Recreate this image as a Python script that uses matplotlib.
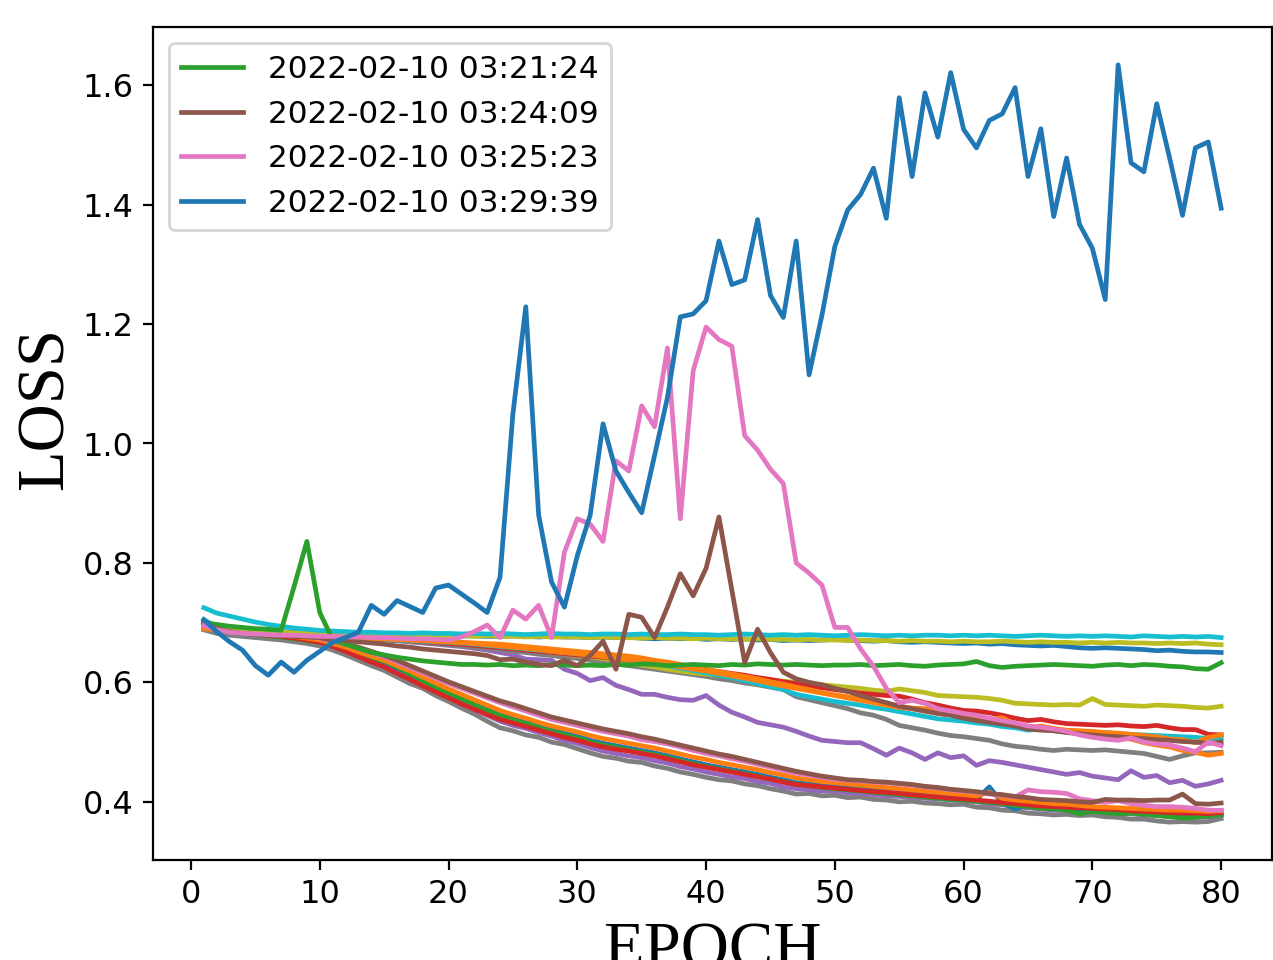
import matplotlib as mpl
mpl.use('Agg')
import matplotlib.pyplot as plt
import numpy as np

epochs = np.arange(1, 81)

# labelled runs
run_032124 = [0.700, 0.697, 0.694, 0.692, 0.690, 0.689, 0.687, 0.760, 0.836, 0.717,
              0.672, 0.664, 0.657, 0.650, 0.646, 0.642, 0.639, 0.636, 0.634, 0.632,
              0.630, 0.630, 0.629, 0.630, 0.628, 0.629, 0.628, 0.630, 0.629, 0.628,
              0.629, 0.628, 0.630, 0.629, 0.631, 0.630, 0.628, 0.629, 0.630, 0.629,
              0.628, 0.630, 0.629, 0.631, 0.630, 0.629, 0.630, 0.629, 0.628, 0.629,
              0.629, 0.630, 0.628, 0.629, 0.630, 0.628, 0.627, 0.629, 0.630, 0.631,
              0.635, 0.628, 0.625, 0.627, 0.628, 0.629, 0.630, 0.629, 0.628, 0.627,
              0.629, 0.630, 0.628, 0.630, 0.629, 0.627, 0.626, 0.623, 0.622, 0.633]
run_032409 = [0.700, 0.690, 0.685, 0.682, 0.680, 0.679, 0.678, 0.677, 0.676, 0.675,
              0.673, 0.670, 0.668, 0.666, 0.664, 0.661, 0.659, 0.656, 0.654, 0.652,
              0.650, 0.648, 0.645, 0.638, 0.639, 0.634, 0.630, 0.628, 0.637, 0.628,
              0.645, 0.669, 0.622, 0.714, 0.709, 0.675, 0.726, 0.782, 0.745, 0.791,
              0.877, 0.755, 0.633, 0.689, 0.650, 0.617, 0.606, 0.600, 0.596, 0.590,
              0.585, 0.578, 0.572, 0.566, 0.560, 0.556, 0.552, 0.548, 0.545, 0.540,
              0.536, 0.533, 0.530, 0.527, 0.522, 0.520, 0.519, 0.516, 0.514, 0.512,
              0.510, 0.509, 0.507, 0.506, 0.504, 0.503, 0.501, 0.500, 0.498, 0.500]
run_032523 = [0.695, 0.688, 0.684, 0.682, 0.681, 0.680, 0.679, 0.679, 0.678, 0.677,
              0.677, 0.676, 0.676, 0.675, 0.675, 0.674, 0.673, 0.673, 0.672, 0.671,
              0.676, 0.685, 0.696, 0.675, 0.721, 0.706, 0.729, 0.675, 0.818, 0.874,
              0.865, 0.836, 0.971, 0.954, 1.063, 1.028, 1.160, 0.874, 1.122, 1.195,
              1.174, 1.163, 1.013, 0.989, 0.957, 0.933, 0.800, 0.783, 0.763, 0.692,
              0.692, 0.656, 0.627, 0.590, 0.566, 0.570, 0.565, 0.556, 0.552, 0.548,
              0.545, 0.540, 0.536, 0.532, 0.527, 0.525, 0.522, 0.518, 0.512, 0.508,
              0.505, 0.503, 0.507, 0.500, 0.497, 0.495, 0.490, 0.484, 0.500, 0.494]
run_032939 = [0.705, 0.685, 0.668, 0.654, 0.628, 0.612, 0.634, 0.617, 0.637, 0.652,
              0.667, 0.675, 0.684, 0.729, 0.714, 0.737, 0.727, 0.717, 0.758, 0.763,
              0.748, 0.733, 0.717, 0.776, 1.050, 1.229, 0.880, 0.768, 0.726, 0.812,
              0.880, 1.033, 0.954, 0.918, 0.884, 0.980, 1.077, 1.212, 1.217, 1.239,
              1.339, 1.266, 1.274, 1.375, 1.248, 1.211, 1.339, 1.115, 1.215, 1.330,
              1.391, 1.417, 1.461, 1.377, 1.579, 1.447, 1.587, 1.513, 1.621, 1.526,
              1.495, 1.541, 1.552, 1.596, 1.447, 1.527, 1.380, 1.478, 1.367, 1.327,
              1.241, 1.634, 1.470, 1.455, 1.569, 1.478, 1.382, 1.495, 1.505, 1.394]
legend_labels = ['2022-02-10 03:21:24', '2022-02-10 03:24:09',
                 '2022-02-10 03:25:23', '2022-02-10 03:29:39']

# runs that stay flat
flat_cyan = [0.725, 0.716, 0.711, 0.706, 0.701, 0.697, 0.694, 0.691, 0.689, 0.687,
             0.686, 0.685, 0.684, 0.684, 0.683, 0.683, 0.682, 0.683, 0.682, 0.682,
             0.681, 0.682, 0.681, 0.682, 0.681, 0.680, 0.681, 0.682, 0.681, 0.681,
             0.680, 0.681, 0.681, 0.680, 0.681, 0.680, 0.680, 0.681, 0.680, 0.680,
             0.679, 0.680, 0.681, 0.680, 0.679, 0.680, 0.679, 0.680, 0.679, 0.678,
             0.679, 0.680, 0.679, 0.678, 0.679, 0.678, 0.679, 0.679, 0.678, 0.679,
             0.678, 0.679, 0.678, 0.677, 0.678, 0.679, 0.678, 0.677, 0.678, 0.677,
             0.678, 0.677, 0.676, 0.678, 0.677, 0.676, 0.677, 0.676, 0.677, 0.675]
flat_blue = [0.700, 0.695, 0.692, 0.690, 0.688, 0.686, 0.685, 0.684, 0.683, 0.682,
             0.682, 0.681, 0.681, 0.680, 0.680, 0.680, 0.679, 0.679, 0.679, 0.678,
             0.678, 0.678, 0.677, 0.677, 0.678, 0.677, 0.676, 0.677, 0.676, 0.676,
             0.675, 0.676, 0.675, 0.676, 0.674, 0.673, 0.674, 0.673, 0.674, 0.672,
             0.673, 0.672, 0.673, 0.671, 0.672, 0.670, 0.671, 0.670, 0.671, 0.672,
             0.671, 0.670, 0.669, 0.670, 0.668, 0.667, 0.668, 0.667, 0.666, 0.665,
             0.666, 0.664, 0.665, 0.663, 0.662, 0.661, 0.662, 0.660, 0.658, 0.657,
             0.658, 0.657, 0.656, 0.655, 0.653, 0.654, 0.652, 0.651, 0.651, 0.650]
flat_olive = [0.698, 0.693, 0.690, 0.688, 0.686, 0.685, 0.684, 0.683, 0.682, 0.682,
              0.681, 0.681, 0.680, 0.680, 0.680, 0.679, 0.679, 0.679, 0.678, 0.678,
              0.678, 0.677, 0.678, 0.677, 0.677, 0.676, 0.677, 0.676, 0.676, 0.676,
              0.675, 0.676, 0.675, 0.675, 0.674, 0.675, 0.674, 0.674, 0.673, 0.674,
              0.673, 0.673, 0.672, 0.673, 0.672, 0.672, 0.671, 0.672, 0.671, 0.671,
              0.670, 0.671, 0.670, 0.670, 0.669, 0.670, 0.669, 0.669, 0.668, 0.669,
              0.668, 0.668, 0.669, 0.668, 0.667, 0.668, 0.667, 0.667, 0.666, 0.667,
              0.666, 0.667, 0.666, 0.666, 0.665, 0.666, 0.665, 0.666, 0.664, 0.663]

# runs that decay slowly
mid_red = [0.698, 0.690, 0.686, 0.684, 0.682, 0.681, 0.680, 0.679, 0.678, 0.677,
           0.676, 0.675, 0.674, 0.673, 0.672, 0.671, 0.670, 0.668, 0.667, 0.665,
           0.664, 0.662, 0.660, 0.658, 0.656, 0.654, 0.652, 0.650, 0.648, 0.646,
           0.644, 0.642, 0.640, 0.637, 0.635, 0.632, 0.630, 0.627, 0.624, 0.621,
           0.618, 0.615, 0.612, 0.608, 0.605, 0.601, 0.598, 0.594, 0.591, 0.588,
           0.585, 0.582, 0.580, 0.578, 0.577, 0.572, 0.566, 0.562, 0.557, 0.553,
           0.552, 0.549, 0.545, 0.540, 0.536, 0.538, 0.534, 0.531, 0.530, 0.529,
           0.528, 0.529, 0.527, 0.526, 0.528, 0.524, 0.521, 0.521, 0.513, 0.512]
mid_orange_a = [0.690, 0.688, 0.685, 0.683, 0.682, 0.680, 0.679, 0.678, 0.677, 0.676,
                0.675, 0.675, 0.674, 0.673, 0.673, 0.672, 0.671, 0.670, 0.669, 0.668,
                0.667, 0.666, 0.665, 0.664, 0.662, 0.660, 0.658, 0.656, 0.654, 0.652,
                0.650, 0.648, 0.646, 0.644, 0.641, 0.637, 0.634, 0.630, 0.626, 0.622,
                0.618, 0.614, 0.610, 0.606, 0.601, 0.597, 0.592, 0.588, 0.583, 0.579,
                0.576, 0.572, 0.569, 0.565, 0.560, 0.557, 0.556, 0.552, 0.548, 0.546,
                0.544, 0.538, 0.541, 0.530, 0.524, 0.527, 0.523, 0.520, 0.519, 0.518,
                0.516, 0.515, 0.513, 0.511, 0.509, 0.505, 0.504, 0.499, 0.508, 0.512]
mid_orange_b = [0.700, 0.692, 0.687, 0.684, 0.682, 0.681, 0.680, 0.679, 0.678, 0.677,
                0.676, 0.675, 0.675, 0.674, 0.673, 0.672, 0.671, 0.670, 0.669, 0.668,
                0.667, 0.665, 0.663, 0.661, 0.659, 0.657, 0.655, 0.652, 0.650, 0.648,
                0.646, 0.643, 0.641, 0.638, 0.635, 0.632, 0.629, 0.626, 0.622, 0.619,
                0.615, 0.611, 0.607, 0.603, 0.598, 0.594, 0.590, 0.586, 0.582, 0.578,
                0.574, 0.570, 0.566, 0.562, 0.558, 0.556, 0.552, 0.548, 0.546, 0.543,
                0.538, 0.535, 0.532, 0.529, 0.526, 0.524, 0.521, 0.518, 0.515, 0.512,
                0.509, 0.507, 0.505, 0.499, 0.495, 0.492, 0.486, 0.483, 0.478, 0.481]
mid_cyan = [0.705, 0.693, 0.688, 0.685, 0.683, 0.681, 0.680, 0.679, 0.678, 0.677,
            0.676, 0.675, 0.674, 0.673, 0.672, 0.671, 0.670, 0.669, 0.668, 0.667,
            0.666, 0.664, 0.662, 0.660, 0.658, 0.656, 0.654, 0.652, 0.650, 0.648,
            0.646, 0.644, 0.641, 0.638, 0.635, 0.632, 0.628, 0.624, 0.620, 0.616,
            0.612, 0.608, 0.603, 0.598, 0.593, 0.588, 0.580, 0.576, 0.572, 0.568,
            0.565, 0.562, 0.558, 0.555, 0.551, 0.547, 0.543, 0.539, 0.537, 0.535,
            0.532, 0.530, 0.526, 0.524, 0.520, 0.522, 0.519, 0.517, 0.516, 0.515,
            0.516, 0.514, 0.513, 0.512, 0.511, 0.510, 0.509, 0.508, 0.506, 0.507]
mid_olive = [0.695, 0.690, 0.687, 0.685, 0.683, 0.682, 0.681, 0.680, 0.679, 0.678,
             0.677, 0.676, 0.675, 0.674, 0.673, 0.672, 0.671, 0.670, 0.669, 0.668,
             0.666, 0.664, 0.662, 0.660, 0.658, 0.655, 0.653, 0.650, 0.648, 0.645,
             0.643, 0.640, 0.637, 0.633, 0.629, 0.626, 0.622, 0.619, 0.616, 0.614,
             0.612, 0.610, 0.608, 0.606, 0.604, 0.602, 0.600, 0.598, 0.596, 0.594,
             0.592, 0.590, 0.587, 0.585, 0.589, 0.586, 0.583, 0.578, 0.577, 0.576,
             0.575, 0.573, 0.570, 0.565, 0.564, 0.563, 0.562, 0.563, 0.562, 0.573,
             0.563, 0.562, 0.561, 0.560, 0.562, 0.561, 0.560, 0.558, 0.557, 0.560]
mid_gray = [0.693, 0.688, 0.685, 0.683, 0.681, 0.680, 0.679, 0.678, 0.677, 0.676,
            0.675, 0.674, 0.673, 0.672, 0.671, 0.670, 0.668, 0.667, 0.665, 0.663,
            0.661, 0.659, 0.657, 0.655, 0.652, 0.650, 0.647, 0.645, 0.642, 0.640,
            0.637, 0.634, 0.631, 0.628, 0.625, 0.622, 0.619, 0.616, 0.613, 0.610,
            0.606, 0.603, 0.599, 0.596, 0.592, 0.588, 0.576, 0.571, 0.566, 0.561,
            0.556, 0.549, 0.545, 0.538, 0.528, 0.524, 0.520, 0.515, 0.511, 0.509,
            0.506, 0.503, 0.497, 0.493, 0.491, 0.488, 0.486, 0.488, 0.487, 0.486,
            0.487, 0.485, 0.483, 0.481, 0.476, 0.471, 0.477, 0.482, 0.482, 0.483]
mid_purple = [0.697, 0.690, 0.686, 0.684, 0.682, 0.681, 0.680, 0.679, 0.678, 0.677,
              0.676, 0.675, 0.674, 0.673, 0.672, 0.670, 0.668, 0.666, 0.664, 0.662,
              0.660, 0.657, 0.654, 0.650, 0.646, 0.639, 0.638, 0.637, 0.622, 0.615,
              0.603, 0.608, 0.595, 0.588, 0.580, 0.580, 0.575, 0.571, 0.570, 0.578,
              0.562, 0.550, 0.542, 0.533, 0.529, 0.525, 0.518, 0.510, 0.503, 0.501,
              0.499, 0.499, 0.489, 0.478, 0.490, 0.482, 0.471, 0.482, 0.474, 0.477,
              0.461, 0.469, 0.466, 0.462, 0.458, 0.454, 0.450, 0.446, 0.449, 0.443,
              0.440, 0.437, 0.452, 0.441, 0.444, 0.432, 0.436, 0.426, 0.430, 0.436]

# runs that decay fast
low_gray = [0.688, 0.682, 0.679, 0.677, 0.675, 0.673, 0.671, 0.668, 0.665, 0.661,
            0.654, 0.646, 0.637, 0.628, 0.620, 0.609, 0.598, 0.590, 0.578, 0.568,
            0.557, 0.547, 0.535, 0.524, 0.519, 0.512, 0.508, 0.500, 0.496, 0.489,
            0.482, 0.476, 0.473, 0.468, 0.466, 0.460, 0.456, 0.450, 0.446, 0.441,
            0.437, 0.435, 0.430, 0.427, 0.422, 0.418, 0.413, 0.414, 0.410, 0.411,
            0.407, 0.408, 0.404, 0.403, 0.400, 0.401, 0.398, 0.397, 0.395, 0.396,
            0.391, 0.390, 0.386, 0.385, 0.381, 0.380, 0.378, 0.379, 0.377, 0.378,
            0.375, 0.374, 0.371, 0.371, 0.368, 0.366, 0.367, 0.366, 0.367, 0.372]
low_purple = [0.693, 0.689, 0.686, 0.684, 0.682, 0.680, 0.678, 0.675, 0.672, 0.668,
              0.661, 0.654, 0.646, 0.637, 0.629, 0.619, 0.609, 0.598, 0.588, 0.577,
              0.566, 0.555, 0.545, 0.535, 0.528, 0.523, 0.516, 0.510, 0.503, 0.498,
              0.491, 0.485, 0.481, 0.477, 0.474, 0.469, 0.465, 0.459, 0.455, 0.450,
              0.446, 0.442, 0.439, 0.434, 0.431, 0.425, 0.422, 0.420, 0.418, 0.418,
              0.415, 0.414, 0.412, 0.410, 0.409, 0.408, 0.406, 0.405, 0.403, 0.402,
              0.400, 0.397, 0.395, 0.392, 0.390, 0.388, 0.386, 0.386, 0.385, 0.384,
              0.382, 0.381, 0.380, 0.378, 0.377, 0.376, 0.375, 0.374, 0.375, 0.377]
low_blue = [0.695, 0.690, 0.686, 0.684, 0.682, 0.680, 0.678, 0.676, 0.673, 0.670,
            0.664, 0.657, 0.649, 0.642, 0.634, 0.624, 0.615, 0.605, 0.595, 0.585,
            0.575, 0.565, 0.556, 0.547, 0.540, 0.534, 0.528, 0.521, 0.515, 0.510,
            0.503, 0.498, 0.494, 0.490, 0.486, 0.482, 0.477, 0.472, 0.467, 0.462,
            0.458, 0.454, 0.450, 0.446, 0.441, 0.437, 0.432, 0.430, 0.427, 0.425,
            0.423, 0.422, 0.420, 0.418, 0.416, 0.414, 0.411, 0.409, 0.407, 0.406,
            0.404, 0.425, 0.398, 0.388, 0.395, 0.392, 0.390, 0.389, 0.388, 0.387,
            0.386, 0.385, 0.383, 0.382, 0.380, 0.379, 0.379, 0.378, 0.378, 0.380]
low_green = [0.692, 0.687, 0.684, 0.682, 0.680, 0.678, 0.676, 0.673, 0.670, 0.667,
             0.661, 0.654, 0.646, 0.641, 0.636, 0.626, 0.614, 0.603, 0.592, 0.582,
             0.572, 0.563, 0.553, 0.544, 0.537, 0.531, 0.524, 0.518, 0.512, 0.507,
             0.500, 0.495, 0.491, 0.487, 0.483, 0.479, 0.474, 0.469, 0.464, 0.459,
             0.455, 0.451, 0.447, 0.443, 0.438, 0.434, 0.429, 0.427, 0.424, 0.422,
             0.420, 0.418, 0.416, 0.414, 0.412, 0.410, 0.408, 0.406, 0.404, 0.403,
             0.401, 0.399, 0.397, 0.394, 0.392, 0.389, 0.388, 0.386, 0.380, 0.384,
             0.382, 0.380, 0.381, 0.379, 0.377, 0.375, 0.373, 0.374, 0.376, 0.378]
low_red = [0.694, 0.689, 0.685, 0.683, 0.681, 0.679, 0.677, 0.674, 0.671, 0.667,
           0.660, 0.652, 0.643, 0.634, 0.626, 0.615, 0.605, 0.594, 0.584, 0.574,
           0.564, 0.555, 0.546, 0.538, 0.532, 0.526, 0.520, 0.514, 0.508, 0.503,
           0.497, 0.492, 0.488, 0.485, 0.481, 0.477, 0.472, 0.467, 0.462, 0.458,
           0.454, 0.450, 0.446, 0.442, 0.438, 0.433, 0.429, 0.427, 0.425, 0.423,
           0.421, 0.419, 0.417, 0.416, 0.414, 0.412, 0.410, 0.408, 0.406, 0.405,
           0.403, 0.401, 0.399, 0.397, 0.395, 0.393, 0.392, 0.391, 0.390, 0.389,
           0.388, 0.387, 0.385, 0.384, 0.383, 0.382, 0.381, 0.381, 0.380, 0.382]
low_orange = [0.698, 0.692, 0.688, 0.685, 0.683, 0.681, 0.679, 0.677, 0.674, 0.671,
              0.665, 0.659, 0.651, 0.644, 0.637, 0.628, 0.619, 0.609, 0.599, 0.589,
              0.580, 0.571, 0.562, 0.553, 0.546, 0.540, 0.533, 0.527, 0.522, 0.517,
              0.511, 0.506, 0.502, 0.498, 0.494, 0.490, 0.485, 0.480, 0.475, 0.471,
              0.466, 0.462, 0.458, 0.454, 0.449, 0.445, 0.440, 0.437, 0.434, 0.432,
              0.430, 0.428, 0.426, 0.424, 0.422, 0.420, 0.418, 0.416, 0.414, 0.412,
              0.410, 0.416, 0.406, 0.403, 0.401, 0.399, 0.397, 0.396, 0.394, 0.392,
              0.391, 0.390, 0.389, 0.388, 0.387, 0.386, 0.386, 0.385, 0.384, 0.385]
low_pink = [0.700, 0.694, 0.690, 0.687, 0.685, 0.683, 0.681, 0.679, 0.677, 0.674,
            0.669, 0.664, 0.657, 0.650, 0.643, 0.634, 0.625, 0.616, 0.607, 0.598,
            0.590, 0.582, 0.574, 0.566, 0.559, 0.552, 0.545, 0.538, 0.533, 0.528,
            0.523, 0.518, 0.514, 0.510, 0.504, 0.501, 0.497, 0.492, 0.486, 0.481,
            0.477, 0.472, 0.468, 0.463, 0.458, 0.453, 0.448, 0.445, 0.441, 0.438,
            0.436, 0.435, 0.433, 0.432, 0.430, 0.428, 0.425, 0.423, 0.420, 0.418,
            0.416, 0.413, 0.411, 0.408, 0.420, 0.417, 0.416, 0.414, 0.405, 0.402,
            0.399, 0.402, 0.397, 0.394, 0.392, 0.392, 0.391, 0.389, 0.386, 0.386]
low_brown = [0.702, 0.695, 0.691, 0.688, 0.686, 0.684, 0.682, 0.680, 0.678, 0.675,
             0.670, 0.665, 0.659, 0.652, 0.645, 0.637, 0.628, 0.619, 0.610, 0.601,
             0.593, 0.585, 0.577, 0.569, 0.563, 0.556, 0.549, 0.542, 0.537, 0.532,
             0.527, 0.522, 0.518, 0.514, 0.509, 0.505, 0.500, 0.495, 0.490, 0.485,
             0.480, 0.476, 0.471, 0.466, 0.461, 0.456, 0.451, 0.447, 0.443, 0.440,
             0.437, 0.436, 0.434, 0.433, 0.431, 0.429, 0.426, 0.424, 0.421, 0.419,
             0.417, 0.414, 0.412, 0.409, 0.407, 0.404, 0.403, 0.402, 0.400, 0.399,
             0.404, 0.403, 0.403, 0.402, 0.403, 0.403, 0.413, 0.397, 0.396, 0.398]

unlabelled = [
    (low_gray, 'tab:gray'), (low_purple, 'tab:purple'), (low_blue, 'tab:blue'),
    (low_green, 'tab:green'), (low_red, 'tab:red'), (low_orange, 'tab:orange'),
    (low_pink, 'tab:pink'), (low_brown, 'tab:brown'),
    (mid_purple, 'tab:purple'), (mid_gray, 'tab:gray'), (mid_olive, 'tab:olive'),
    (mid_red, 'tab:red'), (mid_cyan, 'tab:cyan'), (mid_orange_b, 'tab:orange'),
    (mid_orange_a, 'tab:orange'),
    (flat_blue, 'tab:blue'), (flat_olive, 'tab:olive'), (flat_cyan, 'tab:cyan'),
]
labelled = [(run_032124, 'tab:green'), (run_032409, 'tab:brown'),
            (run_032523, 'tab:pink'), (run_032939, 'tab:blue')]

plt.rcParams['font.size'] = 11.2
plt.rcParams['lines.linewidth'] = 1.7

fig = plt.figure(figsize=(1273 / 200, 960 / 200), dpi=200)
ax = fig.add_axes([153 / 1273, 100 / 960, 1119 / 1273, 833 / 960])

for vals, c in unlabelled:
    ax.plot(epochs, vals, color=c)
for (vals, c), lab in zip(labelled, legend_labels):
    ax.plot(epochs, vals, color=c, label=lab)

ax.legend(loc='upper left', fontsize=11.2)
ax.tick_params(labelsize=11.5)
ax.set_xlabel('EPOCH', fontsize=24, family='Liberation Serif')
ax.set_ylabel('LOSS', fontsize=24, family='Liberation Serif')
ax.yaxis.set_label_coords(-0.068, 0.542)

fig.savefig('out.png', dpi=200)
